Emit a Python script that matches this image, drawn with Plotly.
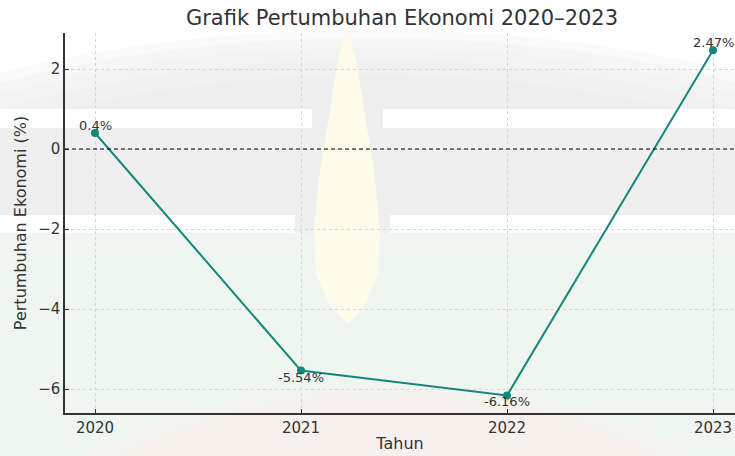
import plotly.graph_objects as go

years = [2020, 2021, 2022, 2023]
growth = [0.4, -5.54, -6.16, 2.47]
labels = ["0.4%", "-5.54%", "-6.16%", "2.47%"]
y_ticks = [-6, -4, -2, 0, 2]

W, H = 735, 456
L, R, T, B = 65, 0, 33, 43
PW, PH = W - L - R, H - T - B


def px(x):
    return (x - L) / PW


def py(y):
    return (H - B - y) / PH


def path(points):
    return "M " + " L ".join(f"{px(a):.4f},{py(b):.4f}" for a, b in points) + " Z"


shapes = []
# soft gray dome (stacked translucent ellipses)
for top, rx in [(30, 640), (38, 620), (48, 600), (60, 580), (75, 560)]:
    shapes.append(dict(type="circle", xref="paper", yref="paper",
                       x0=px(370 - rx), x1=px(370 + rx), y0=py(500), y1=py(top),
                       fillcolor="#ececec", opacity=0.25, line=dict(width=0), layer="below"))
# green lower region
shapes.append(dict(type="rect", xref="paper", yref="paper",
                   x0=px(-10), x1=px(745), y0=py(470), y1=py(233),
                   fillcolor="#f2f4f3", line=dict(width=0), layer="below"))
shapes.append(dict(type="rect", xref="paper", yref="paper",
                   x0=px(-10), x1=px(745), y0=py(470), y1=py(248),
                   fillcolor="#eff6f2", line=dict(width=0), layer="below"))
# soft pink bottom dome
for top, rx in [(385, 380), (395, 350), (408, 320)]:
    shapes.append(dict(type="circle", xref="paper", yref="paper",
                       x0=px(390 - rx), x1=px(390 + rx), y0=py(740), y1=py(top),
                       fillcolor="#fbeeec", opacity=0.35, line=dict(width=0), layer="below"))
# white stripes
for (xa, xb) in [(-10, 312), (383, 745)]:
    shapes.append(dict(type="rect", xref="paper", yref="paper",
                       x0=px(xa), x1=px(xb), y0=py(128), y1=py(109),
                       fillcolor="#ffffff", line=dict(width=0), layer="below"))
for (xa, xb) in [(-10, 295), (390, 745)]:
    shapes.append(dict(type="rect", xref="paper", yref="paper",
                       x0=px(xa), x1=px(xb), y0=py(233), y1=py(215),
                       fillcolor="#ffffff", line=dict(width=0), layer="below"))
# faint yellow flame
flame = [(347, 28), (356, 60), (364, 110), (374, 170), (380, 230), (378, 275),
         (365, 305), (348, 325), (330, 305), (316, 275), (314, 230), (320, 170),
         (330, 110), (338, 60)]
shapes.append(dict(type="path", xref="paper", yref="paper", path=path(flame),
                   fillcolor="#fffbea", line=dict(width=0), layer="below"))
# dashed zero line
shapes.append(dict(type="line", xref="paper", yref="y", x0=0, x1=1, y0=0, y1=0,
                   line=dict(color="#000000", width=1, dash="4px,3px"), layer="above"))

fig = go.Figure()
fig.add_trace(go.Scatter(
    x=years, y=growth, mode="lines+markers",
    line=dict(color="#14877d", width=2),
    marker=dict(color="#14877d", size=8),
    showlegend=False, hoverinfo="skip"))

annotations = []
for x, y, t in zip(years, growth, labels):
    above = y > 0
    annotations.append(dict(x=x, y=y, text=t, showarrow=False, xref="x", yref="y",
                            yanchor="bottom" if above else "top",
                            yshift=-2 if above else 3,
                            font=dict(family="DejaVu Sans", size=13, color="#333333")))

fig.update_layout(
    width=W, height=H,
    margin=dict(l=L, r=R, t=T, b=B),
    paper_bgcolor="#ffffff",
    plot_bgcolor="rgba(0,0,0,0)",
    font=dict(family="DejaVu Sans", color="#333333"),
    title=dict(text="Grafik Pertumbuhan Ekonomi 2020–2023", x=402 / W, xanchor="center",
               y=1 - 18 / H, yanchor="middle",
               font=dict(family="DejaVu Sans", size=21, color="#333333")),
    shapes=shapes,
    annotations=annotations,
    xaxis=dict(range=[2020 - 30 / 206, 2020 + 640 / 206], tickvals=years,
               ticktext=[str(v) for v in years],
               showgrid=True, gridcolor="#d6d6d6", griddash="dot", gridwidth=1,
               zeroline=False, showline=True, linecolor="#333333", linewidth=1.5,
               ticks="inside", ticklen=4, tickcolor="#333333",
               tickfont=dict(family="DejaVu Sans", size=15, color="#333333"),
               title=dict(text="Tahun", standoff=2,
                          font=dict(family="DejaVu Sans", size=16, color="#333333"))),
    yaxis=dict(range=[-6.6, 2.9], tickvals=y_ticks,
               showgrid=True, gridcolor="#d6d6d6", griddash="dot", gridwidth=1,
               zeroline=False, showline=True, linecolor="#333333", linewidth=1.5,
               ticks="inside", ticklen=4, tickcolor="#333333",
               tickfont=dict(family="DejaVu Sans", size=15, color="#333333"),
               title=dict(text="Pertumbuhan Ekonomi (%)", standoff=8,
                          font=dict(family="DejaVu Sans", size=16, color="#333333"))),
)

fig.write_html("out.html")
